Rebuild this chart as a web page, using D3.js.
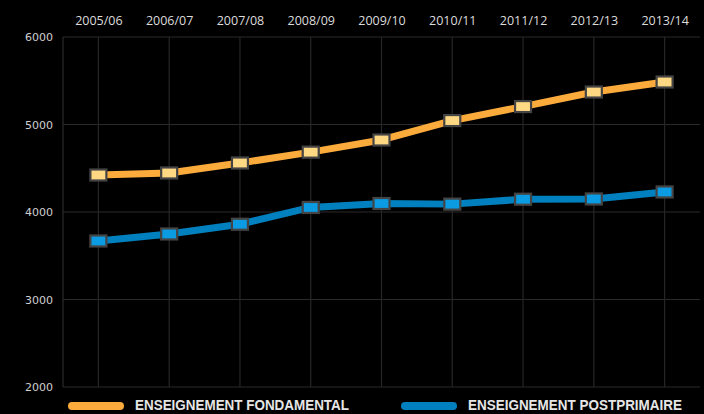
<!DOCTYPE html>
<html><head><meta charset="utf-8">
<script src="https://cdn.jsdelivr.net/npm/d3@7/dist/d3.min.js"></script>
<style>html,body{margin:0;padding:0;background:#000;}svg{display:block;}</style>
</head><body>
<svg id="c" width="704" height="414"></svg>
<script>
const years = ["2005/06","2006/07","2007/08","2008/09","2009/10","2010/11","2011/12","2012/13","2013/14"];
const fondamental = [4423, 4446, 4560, 4684, 4823, 5045, 5205, 5371, 5486];
const postprimaire = [3669, 3749, 3860, 4052, 4097, 4090, 4146, 4149, 4229];
const yTicks = [2000, 3000, 4000, 5000, 6000];
const seriesNames = ["ENSEIGNEMENT FONDAMENTAL", "ENSEIGNEMENT POSTPRIMAIRE"];

const svg = d3.select("#c");
const m = {l: 63, r: 4, t: 37, b: 27};
const W = 704, H = 414;
const x = d3.scalePoint().domain(years).range([m.l, W - m.r]).padding(0.5);
const y = d3.scaleLinear().domain([2000, 6000]).range([H - m.b, m.t]);

const grid = svg.append("g");
grid.selectAll("line.h").data(yTicks).join("line")
  .attr("x1", m.l).attr("x2", W - m.r)
  .attr("y1", d => y(d)).attr("y2", d => y(d))
  .attr("stroke", "#2b2b2b").attr("stroke-width", 1.2);
grid.selectAll("line.v").data(years).join("line")
  .attr("x1", d => x(d)).attr("x2", d => x(d))
  .attr("y1", m.t).attr("y2", H - m.b)
  .attr("stroke", "#262626").attr("stroke-width", 1.2);
grid.append("line").attr("x1", m.l).attr("x2", m.l).attr("y1", m.t).attr("y2", H - m.b)
  .attr("stroke", "#2b2b2b").attr("stroke-width", 1.2);

const yAxis = svg.append("g").attr("transform", `translate(${m.l},0)`)
  .call(d3.axisLeft(y).tickValues(yTicks).tickSize(0).tickPadding(10).tickFormat(d3.format("d")));
yAxis.select(".domain").remove();
yAxis.selectAll("text").attr("fill", "#cfcfcf").style("font-family", "DejaVu Sans").style("font-size", "11px");

const xAxis = svg.append("g").attr("transform", `translate(0,${m.t})`)
  .call(d3.axisTop(x).tickSize(0).tickPadding(12));
xAxis.select(".domain").remove();
xAxis.selectAll("text").attr("fill", "#dcdcdc").style("font-family", "Open Sans").style("font-size", "12.5px");

const series = [
  {vals: fondamental, line: "#fbab3c", fill: "#ffd884"},
  {vals: postprimaire, line: "#0080be", fill: "#0a9be2"}
];
const lineGen = d3.line().x((d, i) => x(years[i])).y(d => y(d));
series.forEach(s => {
  svg.append("path").datum(s.vals).attr("d", lineGen)
    .attr("fill", "none").attr("stroke", s.line).attr("stroke-width", 7).attr("stroke-linejoin", "round");
  svg.append("g").selectAll("rect").data(s.vals).join("rect")
    .attr("x", (d, i) => x(years[i]) - 8).attr("y", d => y(d) - 5.5)
    .attr("width", 16).attr("height", 11)
    .attr("fill", s.fill).attr("stroke", "#444").attr("stroke-width", 2.2);
});

const leg = svg.append("g");
const legX = [68, 401];
series.forEach((s, i) => {
  leg.append("line").attr("x1", legX[i] + 4).attr("x2", legX[i] + 52)
    .attr("y1", 406).attr("y2", 406)
    .attr("stroke", s.line).attr("stroke-width", 8).attr("stroke-linecap", "round");
  leg.append("text").attr("x", legX[i] + 67).attr("y", 409.5)
    .attr("fill", "#e6e6e6").style("font-family", "'Liberation Sans Narrow',sans-serif")
    .style("font-weight", "bold").style("font-size", "14.5px")
    .attr("textLength", 214).attr("lengthAdjust", "spacingAndGlyphs")
    .text(seriesNames[i]);
});
</script>
</body></html>
